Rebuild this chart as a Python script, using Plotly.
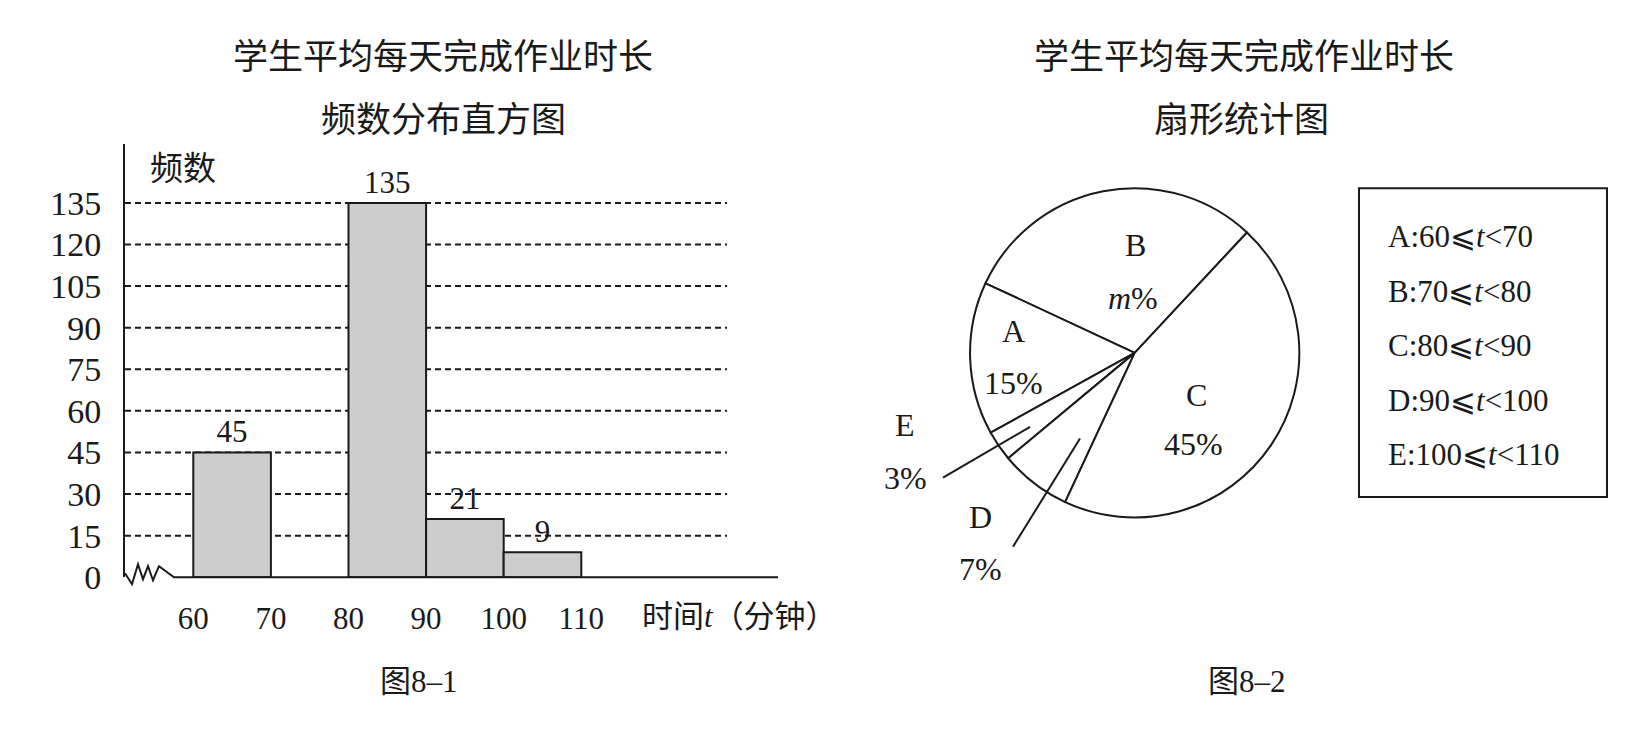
import plotly.graph_objects as go

W, H = 1641, 736
SERIF = "Liberation Serif, Noto Sans CJK SC"
INK = "#1a1a1a"

# 频数分布直方图 (70-80 组在原图中留空)
bin_start = [60, 80, 90, 100]
counts = [45, 135, 21, 9]
bin_width = 10
x_ticks = [60, 70, 80, 90, 100, 110]
y_ticks = [0, 15, 30, 45, 60, 75, 90, 105, 120, 135]

# 扇形统计图, 从 B 开始逆时针
pie_labels = ["B", "A", "E", "D", "C"]
pie_pct = [30, 15, 3, 7, 45]
pie_text = ["<i>m</i>%", "15%", "3%", "7%", "45%"]

# 图例
group_names = ["A", "B", "C", "D", "E"]
group_lo = [60, 70, 80, 90, 100]
group_hi = [70, 80, 90, 100, 110]


def px(x, y):
    return x / W, 1 - y / H


fig = go.Figure()

fig.add_trace(go.Bar(
    x=bin_start, y=counts, width=bin_width, offset=0,
    text=counts, textposition="outside", cliponaxis=False,
    marker=dict(color="#cdcdcd", line=dict(color=INK, width=2)),
    textfont=dict(family=SERIF, size=31, color=INK),
    hoverinfo="skip", showlegend=False,
))

fig.add_trace(go.Pie(
    values=pie_pct, labels=pie_labels, sort=False,
    direction="counterclockwise", rotation=-65,
    domain=dict(x=[957.7 / W, 1295.7 / W], y=[1 - 523 / H, 1 - 185 / H]),
    marker=dict(colors=["white"] * 5, line=dict(color=INK, width=2)),
    textinfo="none", hoverinfo="skip", showlegend=False,
))

ann = []


def text(x, y, s, size=30, xanchor="center"):
    ax, ay = px(x, y)
    ann.append(dict(x=ax, y=ay, xref="paper", yref="paper", text=s,
                    showarrow=False, xanchor=xanchor, yanchor="middle",
                    font=dict(family=SERIF, size=size, color=INK)))


# titles
text(435, 51, "学生平均每天完成作业时长", 35)
text(435, 115, "频数分布直方图", 35)
text(1236, 51, "学生平均每天完成作业时长", 35)
text(1233, 115, "扇形统计图", 35)
text(411, 691, "图8–1", 31)
text(1239, 691, "图8–2", 31)
text(175, 165, "频数", 33)
text(731, 625, "时间<i>t</i>（分钟）", 31)

# pie labels
label_pos = {"B": [(1127, 243), (1125, 298)],
             "A": [(1005, 332), (1005, 385)],
             "C": [(1188, 397), (1185, 448)],
             "E": [(897, 428), (897, 482)],
             "D": [(973, 523), (973, 576)]}
for name, s in zip(pie_labels, pie_text):
    (x1, y1), (x2, y2) = label_pos[name]
    text(x1, y1, name, 32)
    text(x2, y2, s, 32)

# legend rows
for i, (g, lo, hi) in enumerate(zip(group_names, group_lo, group_hi)):
    text(1378, 235 + i * 55.8, f"{g}:{lo}⩽<i>t</i>&lt;{hi}", 31, xanchor="left")

shapes = []
for v in y_ticks[1:]:
    shapes.append(dict(type="line", xref="x domain", yref="y", x0=0, x1=0.922,
                       y0=v, y1=v, layer="below",
                       line=dict(color=INK, width=2, dash="6px,4px")))

# axis break zigzag and baseline, pixel offsets from the origin (y up)
ox, oy = px(117, 584.3)
shapes.append(dict(type="path", xref="paper", yref="paper", xsizemode="pixel", ysizemode="pixel",
                   xanchor=ox, yanchor=oy,
                   path="M0,4 L7,-7 L13,13 L18,-2 L23,11 L28,-3 L34,11 L49,0 L653,0",
                   line=dict(color=INK, width=2)))

# leader lines for E and D
for (x0, y0), (x1, y1) in [((935, 482), (1022, 430)), ((1005, 553), (1072, 442))]:
    a0, b0 = px(x0, y0)
    a1, b1 = px(x1, y1)
    shapes.append(dict(type="line", xref="paper", yref="paper", x0=a0, y0=b0, x1=a1, y1=b1,
                       line=dict(color=INK, width=2)))

# legend box
a0, b0 = px(1351, 502)
a1, b1 = px(1599, 185)
shapes.append(dict(type="rect", xref="paper", yref="paper", x0=a0, y0=b0, x1=a1, y1=b1,
                   line=dict(color=INK, width=2)))

fig.update_layout(
    width=W, height=H,
    margin=dict(l=0, r=0, t=0, b=0),
    paper_bgcolor="white", plot_bgcolor="white",
    font=dict(family=SERIF, color=INK),
    xaxis=dict(domain=[117 / W, 770 / W], range=[51.2, 135.35],
               showline=False, showgrid=False, zeroline=False,
               tickvals=x_ticks, ticktext=[str(t) for t in x_ticks],
               ticks="", ticklabelstandoff=20,
               tickfont=dict(family=SERIF, size=31, color=INK)),
    yaxis=dict(domain=[1 - 584.3 / H, 1 - 140 / H], range=[0, 156.1],
               showline=True, linecolor=INK, linewidth=2,
               showgrid=False, zeroline=False,
               tickvals=y_ticks, ticks="", ticklabelstandoff=15,
               tickfont=dict(family=SERIF, size=34, color=INK)),
    annotations=ann,
    shapes=shapes,
)

fig.write_html("out.html")
